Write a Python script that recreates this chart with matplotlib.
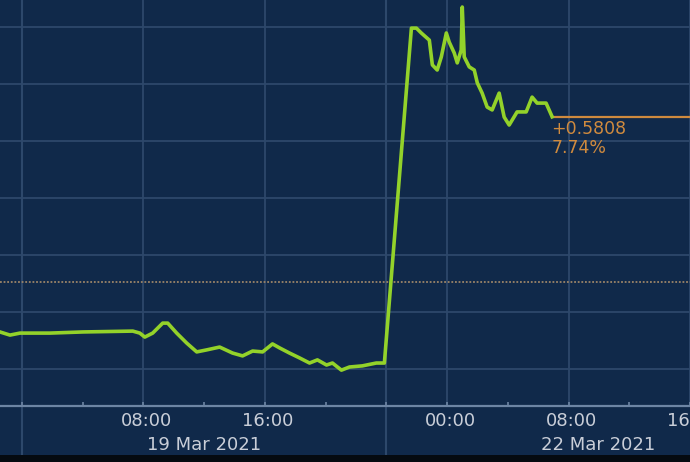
import matplotlib
matplotlib.use("Agg")
import matplotlib.pyplot as plt
from matplotlib.patches import Rectangle

# ---- data (x = compressed trading hours from 19 Mar 2021 00:00; weekend removed,
#      t=24 is the Sunday-evening reopen, t=28 is 22 Mar 00:00) ----
fri_hours = [-1.45, -0.79, -0.13, 1.84, 4.01, 7.30, 7.76, 8.09, 8.61, 9.27, 9.60,
             10.19, 10.85, 11.51, 12.16, 13.02, 13.87, 14.53, 15.19, 15.85, 16.50,
             16.97, 17.62, 18.28, 18.94, 19.46, 20.06, 20.45, 21.04, 21.57, 22.42,
             23.34, 23.87]
fri_values = [7.330, 7.319, 7.326, 7.326, 7.330, 7.333, 7.326, 7.312, 7.326, 7.361,
              7.361, 7.326, 7.291, 7.260, 7.267, 7.277, 7.256, 7.246, 7.263, 7.260,
              7.288, 7.274, 7.256, 7.239, 7.221, 7.232, 7.214, 7.221, 7.196, 7.207,
              7.211, 7.221, 7.221]
mon_hours = [25.65, 25.98, 26.30, 26.83, 27.03, 27.35, 27.62, 27.95, 28.14, 28.47,
             28.67, 28.93, 29.00, 29.13, 29.46, 29.79, 29.99, 30.31, 30.64, 30.97,
             31.43, 31.76, 32.09, 32.61, 33.21, 33.60, 33.93, 34.52, 34.92]
mon_values = [8.396, 8.396, 8.379, 8.354, 8.267, 8.249, 8.295, 8.379, 8.347, 8.309,
              8.274, 8.319, 8.470, 8.295, 8.260, 8.249, 8.204, 8.168, 8.119, 8.109,
              8.168, 8.084, 8.056, 8.102, 8.102, 8.154, 8.133, 8.133, 8.085]

prev_close = 7.5042
last_value = 8.0850
change_label = "+0.5808"
pct_label = "7.74%"

major_ticks = [0, 8, 16, 24, 28, 36, 44]
major_labels = ["", "08:00", "16:00", "", "00:00", "08:00", "16:00"]
minor_ticks = [4, 12, 20, 32, 40]
day_separators = [0, 24]
date_labels = ["19 Mar 2021", "22 Mar 2021"]
date_label_pos = [12, 37.93]
y_grid = [7.2, 7.4, 7.6, 7.8, 8.0, 8.2, 8.4]

# ---- style ----
BG = "#10294a"
GRID = "#2d486b"
AXIS = "#6d85a4"
TXT = "#c9ced8"
GREEN = "#93d22a"
ORANGE = "#cf8a3e"

W, H = 690, 462
fig = plt.figure(figsize=(W / 100, H / 100), dpi=100, facecolor=BG)
ax = fig.add_axes([0, (H - 406) / H, 1, 406 / H])
ax.set_facecolor(BG)

xlim = (-1.447, 43.92)
ylim = (7.0702, 8.4947)
ax.set_xlim(*xlim)
ax.set_ylim(*ylim)

for s in ["left", "right", "top"]:
    ax.spines[s].set_visible(False)
ax.spines["bottom"].set_color(AXIS)
ax.spines["bottom"].set_linewidth(1.6)

# grid
for yv in y_grid:
    ax.axhline(yv, color=GRID, lw=1.3, zorder=1)
for xv in major_ticks:
    if xv not in day_separators:
        ax.axvline(xv, color=GRID, lw=1.3, zorder=1)
for xv in day_separators:
    ax.axvline(xv, ymin=-49 / 406, ymax=1, color=GRID, lw=1.5, zorder=1, clip_on=False)

# previous close dotted line
ax.axhline(prev_close, color="#9b8468", lw=1.3, ls=(0, (1, 1)), zorder=2)

# price line
hours = fri_hours + mon_hours
values = fri_values + mon_values
ax.plot(hours, values, color=GREEN, lw=2.6, solid_joinstyle="round", zorder=4)

# last-price line & labels
ax.plot([hours[-1], xlim[1]], [last_value, last_value], color=ORANGE, lw=1.6, zorder=3)
ax.text(hours[-1] - 0.05, last_value - 0.013, change_label, color=ORANGE, fontsize=12.5,
        ha="left", va="top", zorder=5)
ax.text(hours[-1] - 0.05, last_value - 0.078, pct_label, color=ORANGE, fontsize=12.5,
        ha="left", va="top", zorder=5)

# ticks
ax.set_yticks([])
ax.set_xticks(major_ticks)
ax.set_xticklabels([])
ax.set_xticks(minor_ticks, minor=True)
ax.tick_params(axis="x", which="both", direction="in", length=3, width=1.2, color=AXIS)

for xv, lab in zip(major_ticks, major_labels):
    if lab:
        ax.text(xv + 0.2, -0.015, lab, transform=ax.get_xaxis_transform(), ha="center",
                va="top", color=TXT, fontsize=13, clip_on=False)
for xv, lab in zip(date_label_pos, date_labels):
    ax.text(xv, -0.073, lab, transform=ax.get_xaxis_transform(), ha="center",
            va="top", color=TXT, fontsize=13, clip_on=False)

# bottom black strip
fig.patches.append(Rectangle((0, 0), 1, 7 / H, transform=fig.transFigure,
                             facecolor="#050a10", edgecolor="none", zorder=10))

fig.savefig("out.png", dpi=100, facecolor=BG)
